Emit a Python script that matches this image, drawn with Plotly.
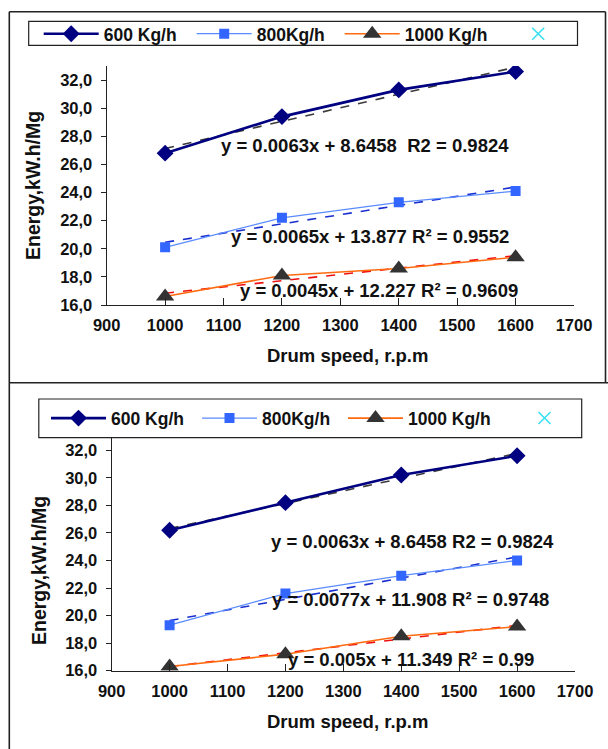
import numpy as np
import plotly.graph_objects as go

W, H = 608, 749

# ---------------- data ----------------
speed = [1000, 1200, 1400, 1600]
series_names = ["600 Kg/h", "800Kg/h", "1000 Kg/h"]

top_600 = [26.8, 29.4, 31.3, 32.6]
top_800 = [20.1, 22.2, 23.3, 24.1]
top_1000 = [16.6, 18.1, 18.6, 19.4]

bot_600 = [26.2, 28.2, 30.2, 31.6]
bot_800 = [19.3, 21.6, 22.9, 24.0]
bot_1000 = [16.3, 17.2, 18.5, 19.2]

top_eq = ["y = 0.0063x + 8.6458  R2 = 0.9824",
          "y = 0.0065x + 13.877 R² = 0.9552",
          "y = 0.0045x + 12.227 R² = 0.9609"]
bot_eq = ["y = 0.0063x + 8.6458 R2 = 0.9824",
          "y = 0.0077x + 11.908 R² = 0.9748",
          "y = 0.005x + 11.349 R² = 0.99"]

x_ticks = [900, 1000, 1100, 1200, 1300, 1400, 1500, 1600, 1700]
y_ticks = [16, 18, 20, 22, 24, 26, 28, 30, 32]
y_ticktext = [f"{v:.1f}".replace(".", ",") for v in y_ticks]

x_title = "Drum speed, r.p.m"
y_title = "Energy,kW.h/Mg"

# ---------------- styles ----------------
FONT = "Arial"
line_colors = ["#000080", "#5A8CFF", "#FF6A10"]
marker_colors = ["#000080", "#3366FF", "#333333"]
marker_symbols = ["diamond", "square", "triangle-up"]
marker_sizes = [13, 10, 16]
line_widths = [2.6, 1.3, 1.6]
trend_colors = ["#3A3A3A", "#1A2FD0", "#F01010"]
legend_widths_top = [83, 78, 96, 1]
legend_widths_bot = [81, 76, 99, 1]


def px_x(p):
    return p / W


def px_y(p):
    return 1 - p / H


fig = go.Figure()

panels = [
    dict(data=[top_600, top_800, top_1000], eq=top_eq, xa="x", ya="y", legend="legend",
         lw=legend_widths_top, eqpos=[(1343, 27.34), (1351, 20.86), (1366, 17.05)]),
    dict(data=[bot_600, bot_800, bot_1000], eq=bot_eq, xa="x2", ya="y2", legend="legend2",
         lw=legend_widths_bot, eqpos=[(1419, 25.35), (1416, 21.16), (1416, 16.84)]),
]

for pi, p in enumerate(panels):
    for si, vals in enumerate(p["data"]):
        coef = np.polyfit(speed, vals, 1)
        xs = [speed[0], speed[-1]]
        ys = list(np.polyval(coef, xs))
        fig.add_trace(go.Scatter(
            x=xs, y=ys, mode="lines", xaxis=p["xa"], yaxis=p["ya"],
            line=dict(color=trend_colors[si], width=1.6, dash="dash"),
            showlegend=False, hoverinfo="skip"))
    for si, vals in enumerate(p["data"]):
        fig.add_trace(go.Scatter(
            x=speed, y=vals, mode="lines+markers", name=series_names[si],
            xaxis=p["xa"], yaxis=p["ya"], legend=p["legend"],
            legendwidth=p["lw"][si],
            line=dict(color=line_colors[si], width=line_widths[si]),
            marker=dict(symbol=marker_symbols[si], size=marker_sizes[si],
                        color=marker_colors[si], line=dict(width=0))))
    fig.add_trace(go.Scatter(
        x=[None], y=[None], mode="markers", name=" ",
        xaxis=p["xa"], yaxis=p["ya"], legend=p["legend"], legendwidth=p["lw"][3],
        marker=dict(symbol="x-thin-open", size=12, color="#33E0F0",
                    line=dict(width=1.5, color="#33E0F0"))))

annotations = []
for p in panels:
    for (ex, ey), txt in zip(p["eqpos"], p["eq"]):
        annotations.append(dict(
            x=ex, y=ey, xref=p["xa"], yref=p["ya"], text=txt, showarrow=False,
            font=dict(family=FONT, size=18.5, color="#111", weight="bold"),
            xanchor="center", yanchor="middle"))

title_font = dict(family=FONT, size=18.5, color="#111", weight="bold")
ytitle_font = dict(family=FONT, size=19.5, color="#111", weight="bold")
annotations += [
    dict(x=px_x(347), y=px_y(356), xref="paper", yref="paper", text=x_title,
         xanchor="center", yanchor="middle", showarrow=False, font=title_font),
    dict(x=px_x(347), y=px_y(721), xref="paper", yref="paper", text=x_title,
         xanchor="center", yanchor="middle", showarrow=False, font=title_font),
    dict(x=px_x(33), y=px_y(186), xref="paper", yref="paper", text=y_title, textangle=-90,
         xanchor="center", yanchor="middle", showarrow=False, font=ytitle_font),
    dict(x=px_x(39), y=px_y(571), xref="paper", yref="paper", text=y_title, textangle=-90,
         xanchor="center", yanchor="middle", showarrow=False, font=ytitle_font),
]

border = dict(color="#222", width=1.6)
shapes = [
    dict(type="line", xref="paper", yref="paper", x0=px_x(9.3), x1=px_x(9.3), y0=px_y(11.7), y1=0, line=border),
    dict(type="line", xref="paper", yref="paper", x0=px_x(9.3), x1=px_x(605.5), y0=px_y(11.7), y1=px_y(11.7), line=border),
    dict(type="line", xref="paper", yref="paper", x0=px_x(605.5), x1=px_x(605.5), y0=px_y(11.7), y1=px_y(382.7), line=border),
    dict(type="line", xref="paper", yref="paper", x0=px_x(9.3), x1=1, y0=px_y(382.7), y1=px_y(382.7), line=border),
    dict(type="rect", xref="paper", yref="paper", x0=px_x(28.7), x1=px_x(577.5), y0=px_y(21.3), y1=px_y(45.3),
         line=dict(color="#222", width=1.2)),
    dict(type="rect", xref="paper", yref="paper", x0=px_x(38.8), x1=px_x(581.7), y0=px_y(399), y1=px_y(437.7),
         line=dict(color="#222", width=1.2)),
]

tickfont = dict(family=FONT, size=16.5, color="#111", weight="bold")


def xaxis(domain, anchor):
    return dict(domain=domain, anchor=anchor, range=[900, 1700], tickvals=x_ticks,
                ticks="inside", ticklen=7, tickwidth=1.2, tickcolor="#222",
                showline=True, linecolor="#222", linewidth=1.2, automargin=False,
                ticklabeloverflow="allow",
                showgrid=False, zeroline=False, tickfont=tickfont, ticklabelstandoff=5)


def yaxis(domain, anchor):
    return dict(domain=domain, anchor=anchor, range=[16, 33], tickvals=y_ticks, ticktext=y_ticktext,
                ticks="outside", ticklen=5, tickwidth=1.2, tickcolor="#222",
                showline=True, linecolor="#222", linewidth=1.2, automargin=False,
                showgrid=False, zeroline=False, tickfont=tickfont, ticklabelstandoff=5)


legend_common = dict(orientation="h", xanchor="left", yanchor="top", borderwidth=0,
                     bgcolor="rgba(0,0,0,0)", itemwidth=55,
                     font=dict(family=FONT, size=17.5, color="#111", weight="bold"),
                     itemclick=False, itemdoubleclick=False)

fig.update_layout(
    width=W, height=H, margin=dict(l=0, r=0, t=0, b=0, pad=0, autoexpand=False),
    paper_bgcolor="white", plot_bgcolor="white",
    xaxis=xaxis([px_x(106.7), px_x(574)], "y"),
    yaxis=yaxis([px_y(305), px_y(66)], "x"),
    xaxis2=xaxis([px_x(111.7), px_x(575)], "y2"),
    yaxis2=yaxis([px_y(670.7), px_y(436.5)], "x2"),
    legend=dict(legend_common, x=38.7 / W, y=1 - 15.8 / H),
    legend2=dict(legend_common, x=46.0 / W, y=1 - 400.2 / H),
    annotations=annotations,
    shapes=shapes,
    showlegend=True,
)

fig.write_html("out.html", config={"displayModeBar": False})
